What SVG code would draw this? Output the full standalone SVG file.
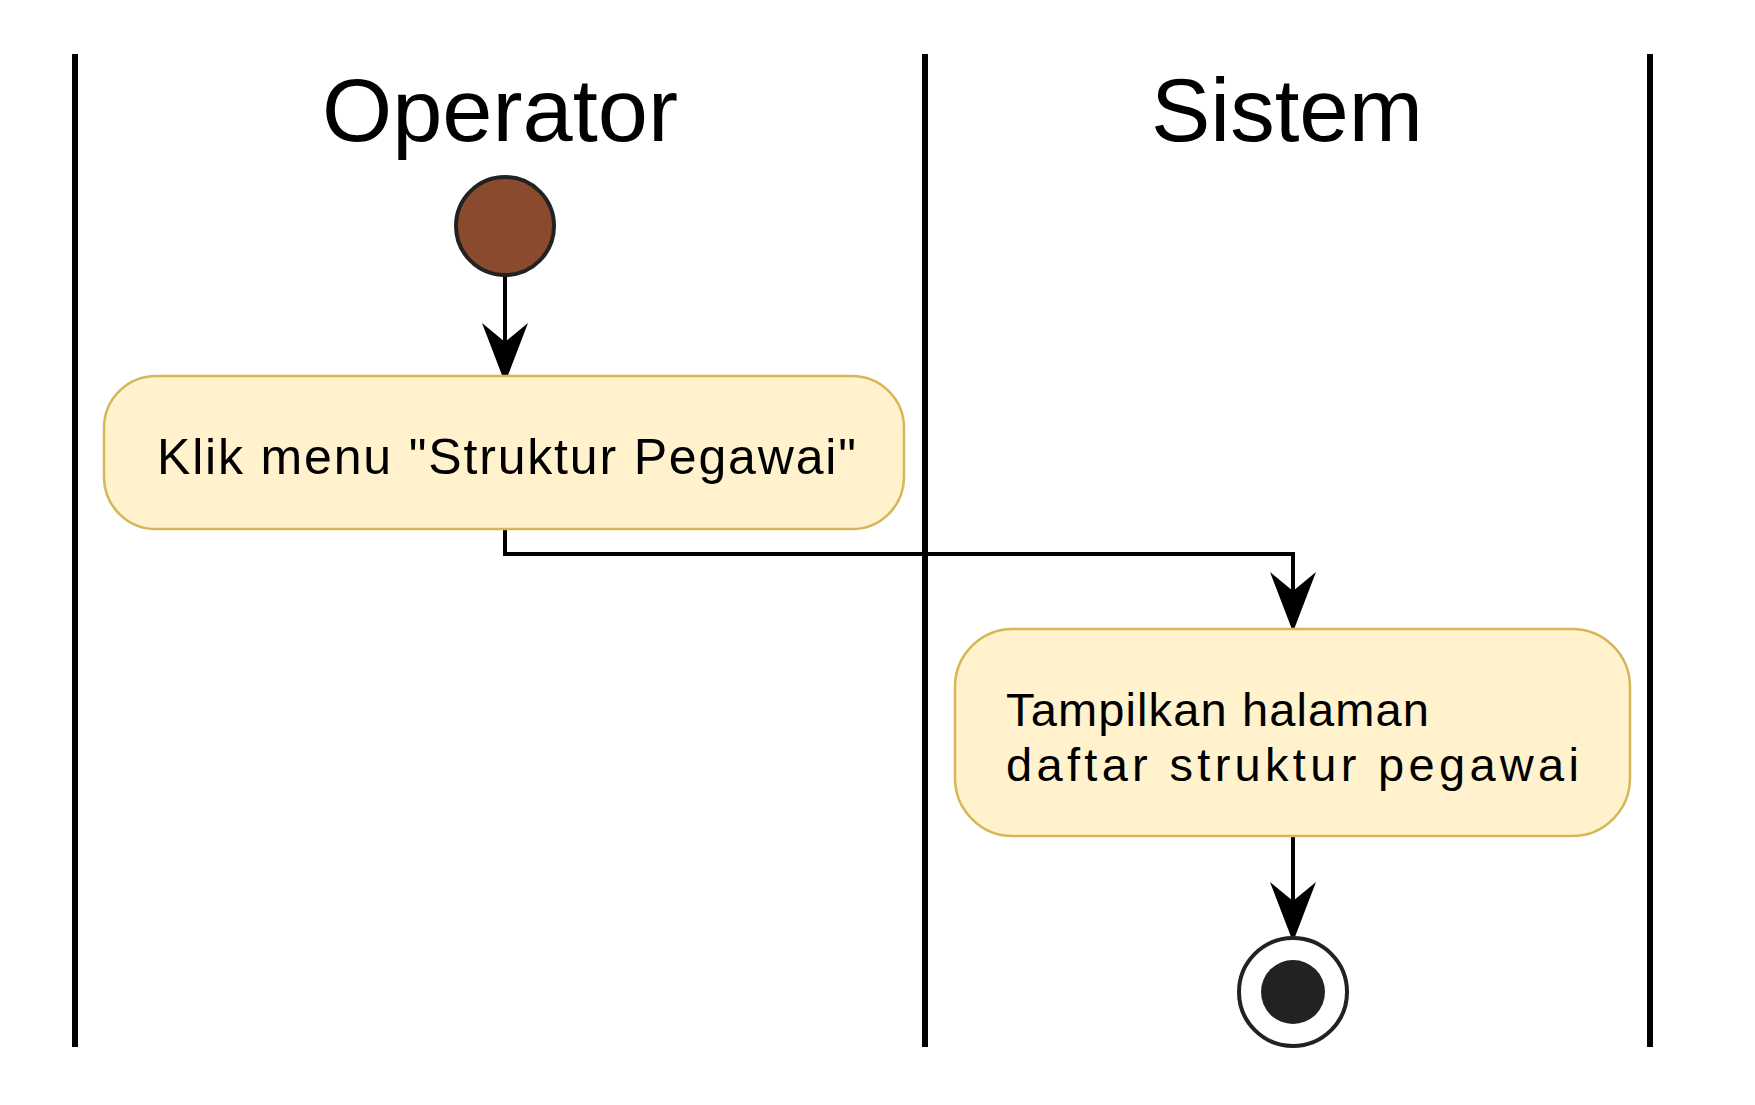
<svg xmlns="http://www.w3.org/2000/svg" width="1755" height="1105" viewBox="0 0 1755 1105">
  <style>
    .lane { stroke: #000; stroke-width: 6; fill: none; }
    .title { font-family: "Liberation Sans", Arial, sans-serif; font-size: 89px; fill: #000; text-anchor: middle; }
    .act { fill: #FFF2CC; stroke: #D6B656; stroke-width: 2.5; }
    .label { font-family: "Liberation Sans", Arial, sans-serif; fill: #000; }
    .conn { stroke: #000; stroke-width: 4; fill: none; }
  </style>
  <defs>
    <marker id="arrow" markerUnits="userSpaceOnUse" viewBox="0 0 62 48" markerWidth="62" markerHeight="48" refX="20" refY="24" orient="auto">
      <path d="M1,1 L61,24 L1,47 L20,24 Z" fill="#000"/>
    </marker>
  </defs>

  <g id="lanes">
    <line class="lane" x1="75" y1="54" x2="75" y2="1047"/>
    <line class="lane" x1="925" y1="54" x2="925" y2="1047"/>
    <line class="lane" x1="1650" y1="54" x2="1650" y2="1047"/>
    <text class="title" x="500" y="141" textLength="356" lengthAdjust="spacingAndGlyphs">Operator</text>
    <text class="title" x="1287" y="141">Sistem</text>
  </g>

  <g id="connectors">
    <path class="conn" d="M505,276 L505,342" marker-end="url(#arrow)"/>
    <path class="conn" d="M505,529 L505,554 L1293,554 L1293,591" marker-end="url(#arrow)"/>
    <path class="conn" d="M1293,836 L1293,901" marker-end="url(#arrow)"/>
  </g>

  <g id="start">
    <circle cx="505" cy="226" r="49" fill="#8B4A2E" stroke="#222" stroke-width="4"/>
  </g>

  <g id="klik-menu">
    <rect class="act" x="104" y="376" width="800" height="153" rx="52" ry="52"/>
    <text class="label" x="157" y="474" font-size="50" textLength="699" lengthAdjust="spacing">Klik menu "Struktur Pegawai"</text>
  </g>

  <g id="tampilkan">
    <rect class="act" x="955" y="629" width="675" height="207" rx="58" ry="58"/>
    <text class="label" font-size="47">
      <tspan x="1006" y="726" textLength="423" lengthAdjust="spacing">Tampilkan halaman</tspan>
      <tspan x="1006" y="781" textLength="573" lengthAdjust="spacing">daftar struktur pegawai</tspan>
    </text>
  </g>

  <g id="end">
    <circle cx="1293" cy="992" r="54" fill="#fff" stroke="#222" stroke-width="4"/>
    <circle cx="1293" cy="992" r="32" fill="#222"/>
  </g>
</svg>
